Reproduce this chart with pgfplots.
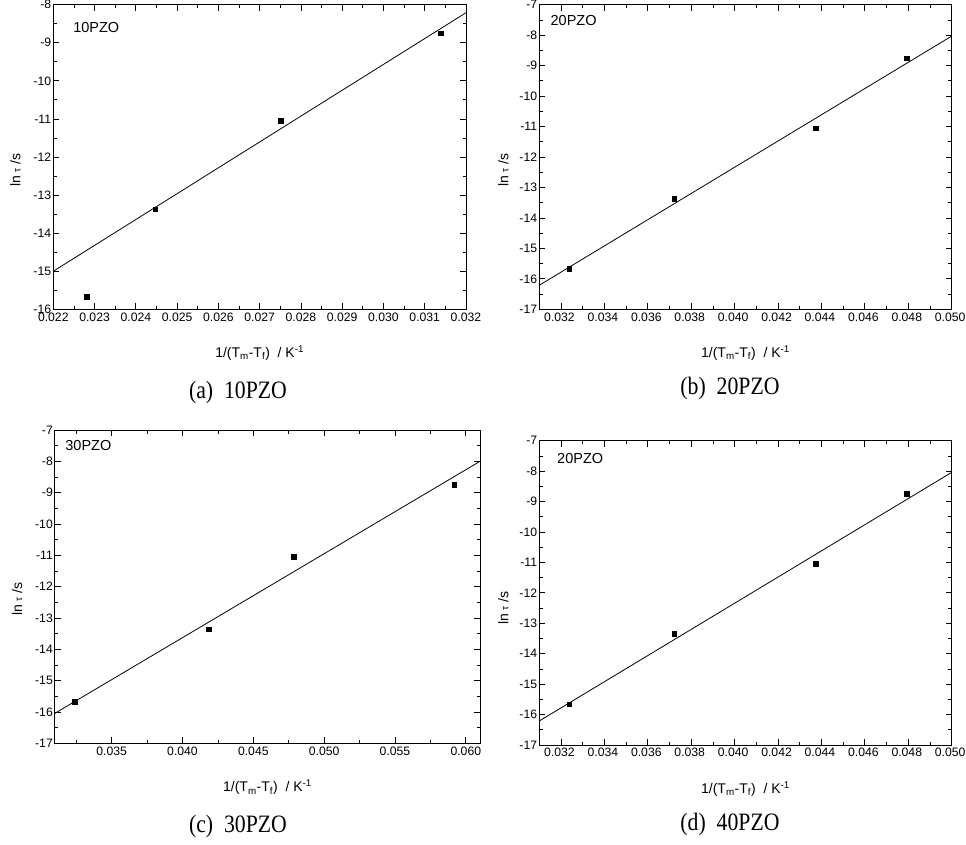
\documentclass[border=0pt]{standalone}
\usepackage{fontspec}
\usepackage{pgfplots}
\pgfplotsset{compat=1.18}
\setmainfont{Liberation Sans}
\newfontfamily\capserif[FakeStretch=0.87]{Liberation Serif}
\newcommand\tickfont{\fontsize{12.2}{12.2}\selectfont}
\newcommand\labfont{\fontsize{14}{14}\selectfont}
\newcommand\insidefont{\fontsize{14.5}{14.5}\selectfont}
\newcommand\capfont{\capserif\fontsize{25}{25}\selectfont}
\newcommand\xlab{1/(T\textsubscript{m}-T\textsubscript{f})~~/~K\textsuperscript{-1}}
\newcommand\ylab{ln {\fontsize{10}{10}\selectfont τ} /s}

\pgfplotsset{
  base/.style={
    scale only axis, anchor=south west,
    scaled x ticks=false, scaled y ticks=false,
    tick align=inside, xtick pos=both, ytick pos=both,
    xticklabel pos=lower, yticklabel pos=left,
    major tick length=6pt, minor tick length=3.5pt,
    every tick/.style={black, line width=0.8pt},
    axis line style={line width=1pt},
    minor y tick num=1,
    ytick distance=1,
    /pgf/number format/assume math mode=true,
    xticklabel style={font=\tickfont, yshift=-2pt, inner sep=1pt, /pgf/number format/fixed, /pgf/number format/fixed zerofill, /pgf/number format/precision=3},
    yticklabel style={font=\tickfont, xshift=-1pt, inner sep=1pt, /pgf/number format/fixed, /pgf/number format/precision=0},
    xlabel={\xlab}, ylabel={\ylab},
    every axis x label/.style={at={(axis description cs:0.5,0)}, anchor=center, yshift=-44pt, font=\labfont},
  },
  pts/.style={only marks, mark=square*, mark size=2.3pt, black},
  fit/.style={no marks, black, line width=0.8pt},
}

\begin{document}
\begin{tikzpicture}
\useasboundingbox (0pt,0pt) rectangle (966pt,-845pt);

% (a)
\begin{axis}[base, at={(53.3pt,-309.3pt)}, width=412.7pt, height=304.6pt,
  xmin=0.022, xmax=0.032, ymin=-16, ymax=-8,
  xtick={0.022,0.023,0.024,0.025,0.026,0.027,0.028,0.029,0.030,0.031,0.032},
  minor x tick num=1,
  every axis y label/.style={at={(axis description cs:-0.092,0.457)}, rotate=90, anchor=center, font=\labfont}]
\addplot[pts] coordinates {(0.02281,-15.67)(0.02447,-13.37)(0.02751,-11.05)(0.03139,-8.75)};
\addplot[fit] coordinates {(0.022,-15.0)(0.032,-8.21)};
\node[anchor=west, font=\insidefont, inner sep=0pt] at (rel axis cs:0.048,0.924) {10PZO};
\end{axis}

% (b)
\begin{axis}[base, at={(539.3pt,-309.3pt)}, width=412.4pt, height=304.6pt,
  xmin=0.031, xmax=0.050, ymin=-17, ymax=-7,
  xtick={0.032,0.034,0.036,0.038,0.040,0.042,0.044,0.046,0.048,0.050},
  minor xtick={0.031,0.033,0.035,0.037,0.039,0.041,0.043,0.045,0.047,0.049},
  xticklabel style={xshift=-1.5pt},
  every axis y label/.style={at={(axis description cs:-0.087,0.457)}, rotate=90, anchor=center, font=\labfont}]
\addplot[pts] coordinates {(0.03238,-15.67)(0.03722,-13.37)(0.04373,-11.06)(0.04793,-8.75)};
\addplot[fit] coordinates {(0.031,-16.21)(0.050,-8.03)};
\node[anchor=west, font=\insidefont, inner sep=0pt] at (rel axis cs:0.027,0.947) {20PZO};
\end{axis}

% (c)
\begin{axis}[base, at={(55pt,-743.3pt)}, width=425pt, height=313.3pt,
  xmin=0.031, xmax=0.061, ymin=-17, ymax=-7,
  xtick={0.035,0.040,0.045,0.050,0.055,0.060},
  minor xtick={0.0325,0.0375,0.0425,0.0475,0.0525,0.0575},
  every axis y label/.style={at={(axis description cs:-0.089,0.46)}, rotate=90, anchor=center, font=\labfont}]
\addplot[pts] coordinates {(0.0324,-15.67)(0.04186,-13.36)(0.04785,-11.05)(0.05918,-8.74)};
\addplot[fit] coordinates {(0.031,-16.04)(0.061,-8.0)};
\node[anchor=west, font=\insidefont, inner sep=0pt] at (rel axis cs:0.024,0.949) {30PZO};
\end{axis}

% (d)
\begin{axis}[base, at={(539.3pt,-745pt)}, width=412.4pt, height=304.3pt,
  xmin=0.031, xmax=0.050, ymin=-17, ymax=-7,
  xtick={0.032,0.034,0.036,0.038,0.040,0.042,0.044,0.046,0.048,0.050},
  minor xtick={0.031,0.033,0.035,0.037,0.039,0.041,0.043,0.045,0.047,0.049},
  xticklabel style={xshift=-1.5pt},
  every axis y label/.style={at={(axis description cs:-0.087,0.45)}, rotate=90, anchor=center, font=\labfont}]
\addplot[pts] coordinates {(0.03238,-15.66)(0.03722,-13.35)(0.04373,-11.05)(0.04793,-8.74)};
\addplot[fit] coordinates {(0.031,-16.21)(0.050,-8.04)};
\node[anchor=west, font=\insidefont, inner sep=0pt] at (rel axis cs:0.043,0.94) {20PZO};
\end{axis}

\node[font=\capfont] at (238pt,-392pt) {(a)~~10PZO};
\node[font=\capfont] at (730pt,-388pt) {(b)~~20PZO};
\node[font=\capfont] at (238pt,-826pt) {(c)~~30PZO};
\node[font=\capfont] at (730pt,-824pt) {(d)~~40PZO};
\end{tikzpicture}
\end{document}
